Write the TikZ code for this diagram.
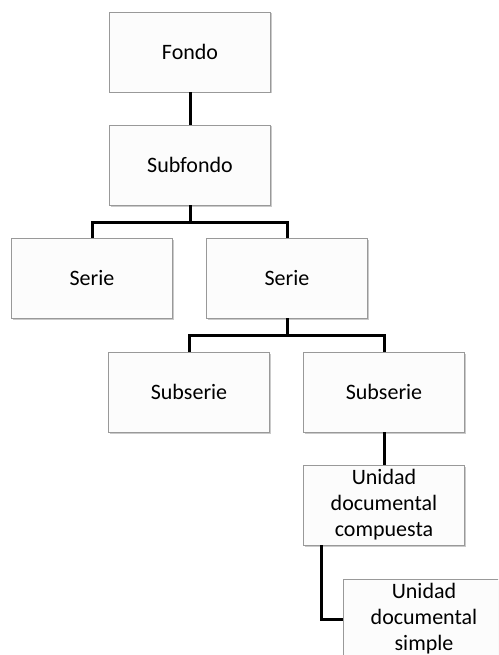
\documentclass[tikz,border=0pt]{standalone}
\usepackage{fontspec}
\setmainfont{Carlito}
\usepackage{tikz}
\usetikzlibrary{shadows}
\tikzstyle{box}=[draw=black!40,fill=black!1,minimum width=161pt,minimum height=80pt,inner sep=0pt,align=center,font=\fontsize{22}{26}\selectfont,drop shadow={shadow xshift=1.5pt,shadow yshift=-1.5pt,opacity=0.35,fill=black!60}]
\tikzstyle{edge} = [draw,line width=3pt,-]

\begin{document}
\begin{tikzpicture}[x=1pt,y=-1pt]
    \useasboundingbox (0,0) rectangle (498,655);
    \clip (0,0) rectangle (498,655);
    % First we draw the boxes
    \foreach \pos/\name/\text in {{(190,52)/fondo/Fondo}, {(190,165)/subfondo/Subfondo},
        {(92,278)/serieA/Serie}, {(287,278)/serieB/Serie},
        {(189,392)/subserieA/Subserie}, {(384,392)/subserieB/Subserie},
        {(384,505)/udc/{Unidad\\documental\\compuesta}}, {(424,619)/uds/{Unidad\\documental\\simple}}}
        \node[box] (\name) at \pos {\text};
    % Connect boxes with edges
    \path[edge] (fondo) -- (subfondo);
    \foreach \source/\dest in {subfondo/serieA, subfondo/serieB, serieB/subserieA, serieB/subserieB}
        \path[edge] (\source.south) -- ++(0,17) -| (\dest.north);
    \path[edge] (subserieB) -- (udc);
    \path[edge] ([xshift=18pt]udc.south west) |- (uds.west);
\end{tikzpicture}
\end{document}
